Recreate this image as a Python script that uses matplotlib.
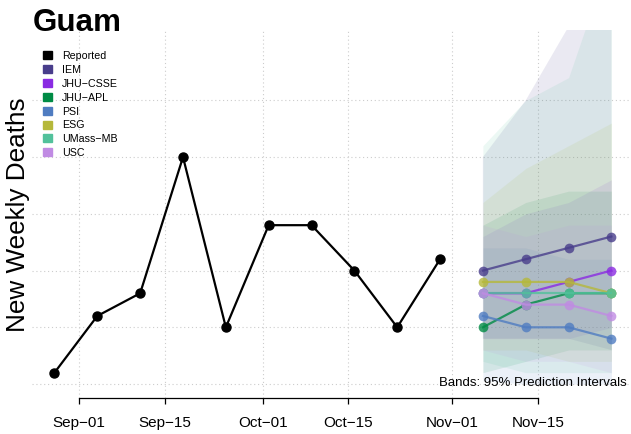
import numpy as np
import pandas as pd
import matplotlib
matplotlib.use("agg")
import matplotlib.pyplot as plt
import matplotlib.dates as mdates
from matplotlib.patches import Rectangle

plt.rcParams['font.family'] = ['Liberation Sans', 'DejaVu Sans']

# reported weekly deaths
rep_dates = pd.date_range('2021-08-28', periods=10, freq='7D')
rep_deaths = [1, 6, 8, 20, 5, 14, 14, 10, 5, 11]

# forecasts
fc_dates = pd.date_range('2021-11-06', periods=4, freq='7D')
models = ['IEM', 'JHU-CSSE', 'JHU-APL', 'PSI', 'ESG', 'UMass-MB', 'USC']
colors = ['#483D8B', '#8A2BE2', '#008B45', '#4F7CC1', '#B5B83A', '#52C19B', '#C08BE3']
point = {
    'IEM':      [10, 11, 12, 13],
    'JHU-CSSE': [8, 8, 9, 10],
    'JHU-APL':  [5, 7, 8, 8],
    'PSI':      [6, 5, 5, 4],
    'ESG':      [9, 9, 9, 8],
    'UMass-MB': [8, 8, 8, 8],
    'USC':      [8, 7, 7, 6],
}
lower = {
    'IEM':      [4, 4, 4, 3],
    'JHU-CSSE': [4, 4, 4, 5],
    'JHU-APL':  [1, 2, 3, 3],
    'PSI':      [0.3, 0, 0, 0],
    'ESG':      [3, 3, 2, 2],
    'UMass-MB': [2, 1, 1, 1],
    'USC':      [3, 2, 2, 1],
}
upper = {
    'IEM':      [20, 25, 31.5, 45],
    'JHU-CSSE': [13, 15, 16, 18],
    'JHU-APL':  [14, 16, 17, 17],
    'PSI':      [12, 12, 11, 11],
    'ESG':      [16, 19, 21, 23],
    'UMass-MB': [21, 25, 27, 38],
    'USC':      [14, 13, 14, 14],
}
tick_dates = pd.to_datetime(['2021-09-01', '2021-09-15', '2021-10-01',
                             '2021-10-15', '2021-11-01', '2021-11-15'])
tick_labels = ['Sep\u221201', 'Sep\u221215', 'Oct\u221201',
               'Oct\u221215', 'Nov\u221201', 'Nov\u221215']
ygrid = [0, 5, 10, 15, 20, 25]

W, H = 631, 435
fig = plt.figure(figsize=(W / 100, H / 100), dpi=100)
ax = fig.add_axes([32.2 / W, 1 - 399 / H, 601.5 / W, 368 / H])

x0 = rep_dates[0] - pd.Timedelta(days=3.64)
x1 = fc_dates[-1] + pd.Timedelta(days=3.64)
ax.set_xlim(x0, x1)
ax.set_ylim(-1.23, 31.2)

# grid
for g in ygrid:
    ax.axhline(g, color='#CCCCCC', lw=0.8, ls=(0, (1, 2.5)), zorder=0)
for t in tick_dates:
    ax.axvline(t, color='#CCCCCC', lw=0.8, ls=(0, (1, 2.5)), zorder=0)

# bands
for m, c in zip(models, colors):
    ax.fill_between(fc_dates, lower[m], upper[m], color=c, alpha=0.11, lw=0, zorder=1)

# forecast lines
for m, c in zip(models, colors):
    ax.plot(fc_dates, point[m], color=c, lw=1.6, marker='o', ms=7, mew=0,
            alpha=0.8, zorder=3)

ax.plot(rep_dates, rep_deaths, color='black', lw=1.6, marker='o', ms=6.5, zorder=4)

for s in ['top', 'right', 'left']:
    ax.spines[s].set_visible(False)
ax.spines['bottom'].set_bounds(mdates.date2num(tick_dates[0]), mdates.date2num(tick_dates[-1]))
ax.spines['bottom'].set_linewidth(0.9)
ax.set_yticks([])
ax.set_xticks(tick_dates)
ax.set_xticklabels(tick_labels, fontsize=11)
ax.tick_params(axis='x', length=4, width=0.9, pad=8)

fig.text(33 / W, 1 - 31 / H, 'Guam', fontsize=22.6, fontweight='bold', va='baseline')
fig.text(18 / W, 1 - 215 / H, 'New Weekly Deaths', fontsize=18.8, rotation=90,
         ha='center', va='center')
fig.text(627 / W, 1 - 383 / H, 'Bands: 95% Prediction Intervals', fontsize=9.5,
         ha='right', va='center')

# legend
names = ['Reported'] + models
cols = ['black'] + colors
for i, (n, c) in enumerate(zip(names, cols)):
    yc = 56 + i * 13.9
    fig.patches.append(Rectangle((43 / W, 1 - (yc + 4) / H), 9 / W, 8 / H,
                                 transform=fig.transFigure, color=c))
    fig.text(62 / W, 1 - yc / H, n.replace('-', '\u2212'), fontsize=7.7, va='center')

fig.savefig('out.png', dpi=100)
